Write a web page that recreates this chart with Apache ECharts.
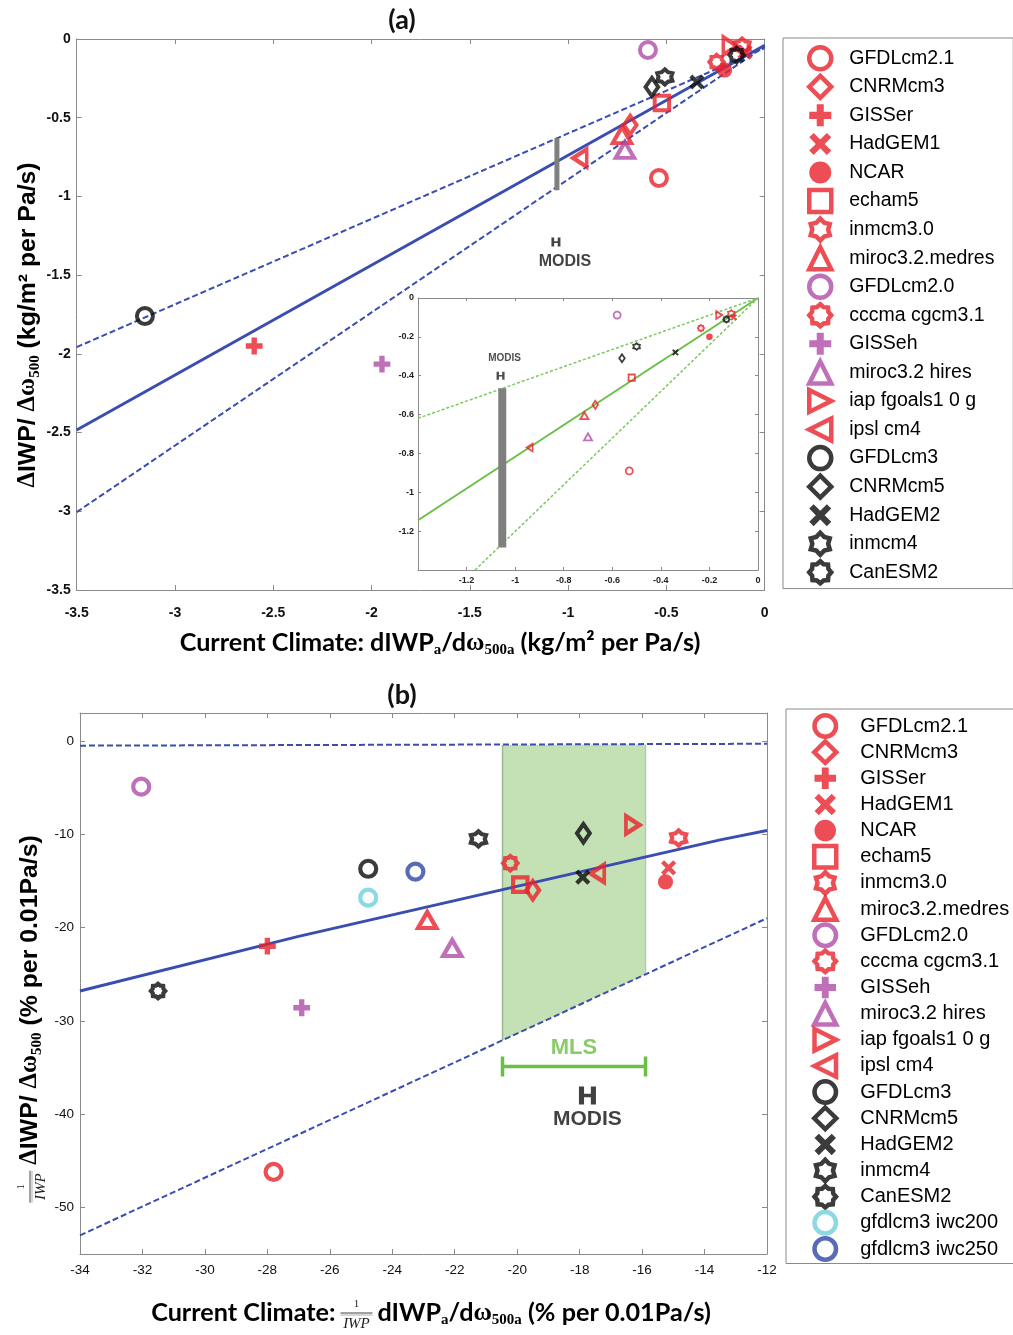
<!DOCTYPE html>
<html><head><meta charset="utf-8">
<script src="https://cdn.jsdelivr.net/npm/echarts@6/dist/echarts.min.js"></script>
<style>html,body{margin:0;padding:0;background:#fff}#c{width:1013px;height:1335px}</style>
</head><body><div id="c"></div>
<script>
// ---------------- DATA ----------------
const modelNames = ['GFDLcm2.1','CNRMcm3','GISSer','HadGEM1','NCAR','echam5','inmcm3.0','miroc3.2.medres','GFDLcm2.0','cccma cgcm3.1','GISSeh','miroc3.2 hires','iap fgoals1 0 g','ipsl cm4','GFDLcm3','CNRMcm5','HadGEM2','inmcm4','CanESM2'];
const extraNamesB = ['gfdlcm3 iwc200','gfdlcm3 iwc250'];

// panel (a) main
const aX = [-0.538,-0.684,-2.597,-0.100,-0.204,-0.523,-0.115,-0.726,-0.594,-0.245,-1.947,-0.711,-0.176,-0.940,-3.153,-0.574,-0.345,-0.508,-0.143];
const aY = [-0.883,-0.546,-1.950,-0.083,-0.197,-0.407,-0.045,-0.610,-0.070,-0.146,-2.065,-0.705,-0.045,-0.756,-1.760,-0.305,-0.273,-0.241,-0.102];

// panel (a) inset
const insetNames = ['GFDLcm2.1','CNRMcm3','HadGEM1','NCAR','echam5','inmcm3.0','miroc3.2.medres','GFDLcm2.0','cccma cgcm3.1','miroc3.2 hires','iap fgoals1 0 g','ipsl cm4','CNRMcm5','HadGEM2','inmcm4','CanESM2'];
const insetX = [-0.53,-0.67,-0.10,-0.20,-0.52,-0.11,-0.715,-0.58,-0.235,-0.70,-0.16,-0.94,-0.56,-0.34,-0.50,-0.13];
const insetY = [-0.89,-0.55,-0.10,-0.20,-0.41,-0.08,-0.605,-0.088,-0.155,-0.715,-0.088,-0.77,-0.31,-0.28,-0.25,-0.11];

// panel (b)
const bX = [-27.8,-19.5,-28.0,-15.15,-15.25,-19.9,-14.83,-22.88,-32.04,-20.22,-26.9,-22.08,-16.3,-17.43,-24.77,-17.88,-17.9,-21.24,-31.5,-24.77,-23.26];
const bY = [-46.2,-16.0,-22.0,-13.6,-15.1,-15.4,-10.4,-19.2,-4.9,-13.1,-28.6,-22.2,-9.0,-14.2,-13.7,-9.9,-14.6,-10.5,-26.8,-16.8,-14.0];

// regression lines (a)
const aFit = [[-3.5,-2.484],[-1.043,-0.769],[0,-0.04]];
const aUpper = [[-3.5,-1.957],[-1.043,-0.623],[0,-0.057]];
const aLower = [[-3.5,-3.005],[-1.043,-0.928],[0,-0.047]];
const aModisBar = [[-1.057,-0.63],[-1.057,-0.96]];
const aModisPt = [[-1.062,-1.29]];
// inset lines
const inFit = [[-1.4,-1.144],[0,0]];
const inUpper = [[-1.4,-0.619],[0,0]];
const inLower = [[-1.165,-1.4],[0,0]];
const inModisBar = [[-1.053,-0.464],[-1.053,-1.284]];
const inModisPt = [[-1.06,-0.40]];
// lines (b)
const bFit = [[-34,-26.8],[-27,-20.95],[-21.2,-16.5],[-13.5,-10.6],[-12,-9.6]];
const bUpper = [[-34,-0.5],[-12,-0.3]];
const bLower = [[-34,-53.0],[-12,-19.0]];
const mlsBoxX = [-20.47,-15.89];
const mlsBoxTop = [-0.42,-0.37];
const mlsBoxBot = [-32.1,-25.0];
const mlsBar = [[-20.47,-34.9],[-15.89,-34.9]];
const mlsLabelPt = [[-18.18,-34.9]];
const bModisPt = [[-17.75,-38.0]];

// axis ticks
const aTicks = {min:-3.5, max:0, interval:0.5};
const inTicks = [-1.2,-1,-0.8,-0.6,-0.4,-0.2,0];
const bXTicks = {min:-34, max:-12, interval:2};
const bYTicks = [-50,-40,-30,-20,-10,0];

// ---------------- STYLES ----------------
function starPath(n, rIn){ let d=''; for(let i=0;i<2*n;i++){const r=i%2?rIn*10:10;const a=-Math.PI/2+i*Math.PI/n;d+=(i?'L':'M')+(10+r*Math.cos(a)).toFixed(2)+','+(10+r*Math.sin(a)).toFixed(2);} return 'path://'+d+'Z'; }
const HEX = starPath(6,0.72), GEAR = starPath(8,0.8);
const PLUS='path://M3.4,0H6.6V3.4H10V6.6H6.6V10H3.4V6.6H0V3.4H3.4Z';
const CROSS='path://M2,0L5,3L8,0L10,2L7,5L10,8L8,10L5,7L2,10L0,8L3,5L0,2Z';
const RTRI='path://M0,0L10,5L0,10Z', LTRI='path://M10,0L0,5L10,10Z';
const HSYM='path://M0,0H3V4H7V0H10V10H7V6H3V10H0Z';
const CAP='path://M0,0H2V10H0Z';
const RED='#e8222a', PUR='#b04ca6', BLK='#0a0a0a', CYA='#6ecfdc', NAV='#2f46a4';
const LBLUE='#3a4db0', GRN='#6abf45', GREY='#7f7f7f', AXC='#8a8a8a';
const allNames = modelNames.concat(extraNamesB);
const COL=[RED,RED,RED,RED,RED,RED,RED,RED,PUR,RED,PUR,PUR,RED,RED,BLK,BLK,BLK,BLK,BLK,CYA,NAV];
const SYM=['circle','diamond',PLUS,CROSS,'circle','rect',HEX,'triangle','circle',GEAR,PLUS,'triangle',RTRI,LTRI,'circle','diamond',CROSS,HEX,GEAR,'circle','circle'];
const FILLED=[0,0,1,1,1,0,0,0,0,0,1,0,0,0,0,0,1,0,0,0,0];
const ASP=[[1,1],[0.8,1.15],[1.05,1.05],[0.95,0.95],[0.95,0.95],[0.9,0.9],[0.95,0.95],[1.15,1.0],[1,1],[0.9,0.9],[1.05,1.05],[1.15,1.0],[0.85,1.1],[0.85,1.1],[1,1],[0.8,1.15],[0.95,0.95],[0.95,0.95],[0.9,0.9],[1,1],[1,1]];

function makeScatter(names, xs, ys, axis, base, bw, prefix){
  return names.map((n,k)=>{ const i=allNames.indexOf(n);
    return {type:'scatter', name:prefix+n, xAxisIndex:axis, yAxisIndex:axis, symbol:SYM[i],
      symbolSize:[base*ASP[i][0], base*ASP[i][1]], symbolKeepAspect:false, data:[[xs[k],ys[k]]],
      itemStyle: FILLED[i]?{color:COL[i], borderWidth:0}:{color:'rgba(255,255,255,0)', borderColor:COL[i], borderWidth:bw},
      z:6, silent:true, animation:false};
  });
}
function lineS(data, axis, color, width, type, z){
  return {type:'line', data, xAxisIndex:axis, yAxisIndex:axis, showSymbol:false, symbol:'none',
    lineStyle:{color, width, type}, z:z||3, silent:true, animation:false};
}
function pointLabel(data, axis, sym, size, color, text, pos, dist, offset, fs){
  return {type:'scatter', data, xAxisIndex:axis, yAxisIndex:axis, symbol:sym, symbolSize:size,
    itemStyle:{color}, z:7, silent:true, animation:false,
    label:{show:true, formatter:text, position:pos, distance:dist, offset:offset,
      fontFamily:'Liberation Sans', fontWeight:'bold', fontSize:fs, color:color==='rgba(0,0,0,0)'?GRN:color}};
}

// ---------------- AXES ----------------
function axisBase(o){
  return Object.assign({type:'value', splitLine:{show:false},
    axisLine:{show:true, onZero:false, lineStyle:{color:AXC, width:1}},
    axisTick:{show:true, inside:true, length:5, lineStyle:{color:AXC}}}, o);
}
const labA = {fontFamily:'Liberation Sans', fontWeight:'bold', fontSize:14, color:'#111', showMinLabel:true, showMaxLabel:true};
const labIn = {fontFamily:'Liberation Sans', fontWeight:'bold', fontSize:9, color:'#222'};
const labB = {fontFamily:'Liberation Sans', fontSize:13.5, color:'#111', showMinLabel:true, showMaxLabel:true};
const xAxes = [
  axisBase(Object.assign({gridIndex:0, position:'bottom', axisLabel:Object.assign({margin:16},labA)}, aTicks)),
  axisBase({gridIndex:1, position:'bottom', min:-1.4, max:0, axisLabel:Object.assign({margin:6, customValues:inTicks},labIn), axisTick:{show:true, inside:true, length:3, customValues:inTicks, lineStyle:{color:AXC}}}),
  axisBase(Object.assign({gridIndex:2, position:'bottom', axisLabel:Object.assign({margin:9},labB)}, bXTicks)),
  axisBase(Object.assign({gridIndex:0, position:'top', axisLabel:{show:false}}, aTicks)),
  axisBase({gridIndex:1, position:'top', min:-1.4, max:0, axisLabel:{show:false}, axisTick:{show:true, inside:true, length:3, customValues:inTicks, lineStyle:{color:AXC}}}),
  axisBase(Object.assign({gridIndex:2, position:'top', axisLabel:{show:false}}, bXTicks))
];
const yAxes = [
  axisBase(Object.assign({gridIndex:0, position:'left', axisLabel:Object.assign({margin:6},labA)}, aTicks)),
  axisBase({gridIndex:1, position:'left', min:-1.4, max:0, axisLabel:Object.assign({margin:4, customValues:inTicks},labIn), axisTick:{show:true, inside:true, length:3, customValues:inTicks, lineStyle:{color:AXC}}}),
  axisBase({gridIndex:2, position:'left', min:-55, max:3, axisLabel:Object.assign({margin:6, customValues:bYTicks},labB), axisTick:{show:true, inside:true, length:5, customValues:bYTicks, lineStyle:{color:AXC}}}),
  axisBase(Object.assign({gridIndex:0, position:'right', axisLabel:{show:false}}, aTicks)),
  axisBase({gridIndex:1, position:'right', min:-1.4, max:0, axisLabel:{show:false}, axisTick:{show:true, inside:true, length:3, customValues:inTicks, lineStyle:{color:AXC}}}),
  axisBase({gridIndex:2, position:'right', min:-55, max:3, axisLabel:{show:false}, axisTick:{show:true, inside:true, length:5, customValues:bYTicks, lineStyle:{color:AXC}}})
];

// ---------------- SERIES ----------------
const DASH=[6,3];
const series = [];
// (a) main
series.push(lineS(aFit,0,LBLUE,3,'solid'), lineS(aUpper,0,LBLUE,2,DASH), lineS(aLower,0,LBLUE,2,DASH));
series.push(lineS(aModisBar,0,GREY,5,'solid',4));
series.push(pointLabel(aModisPt,0,HSYM,[9,9],'#111','MODIS','bottom',7,[9,0],16));
series.push(...makeScatter(modelNames,aX,aY,0,16,4,''));
// inset
series.push(lineS(inFit,1,GRN,2,'solid'), lineS(inUpper,1,'#7cc860',1.5,[3,2]), lineS(inLower,1,'#7cc860',1.5,[3,2]));
series.push(lineS(inModisBar,1,GREY,8,'solid',4));
series.push(pointLabel(inModisPt,1,HSYM,[8,8],'#222','MODIS','top',8,[4,0],10));
series.push(...makeScatter(insetNames,insetX,insetY,1,7,1.8,'inset '));
// (b)
series.push({type:'custom', xAxisIndex:2, yAxisIndex:2, z:1, silent:true, animation:false,
  data: mlsBoxX.map((x,i)=>[x, mlsBoxTop[i], mlsBoxBot[i]]),
  renderItem:function(params, api){
    if(params.dataIndex!==0) return null;
    const p0=api.coord([api.value(0,0),api.value(1,0)]), p1=api.coord([api.value(0,1),api.value(1,1)]),
          p2=api.coord([api.value(0,1),api.value(2,1)]), p3=api.coord([api.value(0,0),api.value(2,0)]);
    return {type:'group', children:[
      {type:'polygon', shape:{points:[p0,p1,p2,p3]}, style:{fill:'#c3e1b5'}},
      {type:'line', shape:{x1:p0[0],y1:p0[1],x2:p3[0],y2:p3[1]}, style:{stroke:'#98b894', lineWidth:1.5}},
      {type:'line', shape:{x1:p1[0],y1:p1[1],x2:p2[0],y2:p2[1]}, style:{stroke:'#b8c8b6', lineWidth:1.5}}
    ]};
  }});
series.push(lineS(bFit,2,LBLUE,3,'solid'), lineS(bUpper,2,LBLUE,2,DASH), lineS(bLower,2,LBLUE,2,DASH));
series.push({type:'line', data:mlsBar, xAxisIndex:2, yAxisIndex:2, symbol:CAP, symbolSize:[3.5,20], showSymbol:true,
  itemStyle:{color:GRN}, lineStyle:{color:GRN, width:3.5}, z:4, silent:true, animation:false});
series.push(pointLabel(mlsLabelPt,2,'rect',1,'rgba(0,0,0,0)','MLS','top',7,[0,0],22));
series.push(pointLabel(bModisPt,2,HSYM,[17,18],'#111','MODIS','bottom',4,[0,0],21));
series.push(...makeScatter(allNames,bX,bY,2,16,4.2,''));

// ---------------- LEGENDS ----------------
const mctx = document.createElement('canvas').getContext('2d');
function tw(t, font){ mctx.font = font; return mctx.measureText(t).width; }
function legendData(names){ return names.map(n=>{ const i=allNames.indexOf(n);
  return {name:n, itemStyle: FILLED[i]?{color:COL[i], borderColor:'rgba(255,255,255,0)', borderWidth:4.5}:{color:'rgba(255,255,255,0)', borderColor:COL[i], borderWidth:4.5}}; }); }
const fA = '19.5px "Liberation Sans"', fB='20px "Liberation Sans"';
const wA = Math.max(...modelNames.map(n=>tw(n,fA)));
const wB = Math.max(...allNames.map(n=>tw(n,fB)));
const legA = {orient:'vertical', left:783, top:38, itemWidth:22, itemHeight:22, itemGap:2.06,
  padding:[7, Math.max(2, 1011-(783+24+22+5+13+wA)), 3, 24], borderColor:'#8a8a8a', borderWidth:1, selectedMode:false,
  textStyle:{fontFamily:'Liberation Sans', fontSize:19.5, color:'#000', padding:[0,0,0,13]}, data:legendData(modelNames)};
const legB = {orient:'vertical', left:786, top:709, itemWidth:22, itemHeight:21.5, itemGap:0.15,
  padding:[4, Math.max(2, 1012-(786+26+22+5+19+wB)), 1.5, 26], borderColor:'#8a8a8a', borderWidth:1, selectedMode:false,
  textStyle:{fontFamily:'Liberation Sans', fontSize:20, color:'#000', padding:[0,0,0,19]}, data:legendData(allNames)};

// ---------------- AXIS TITLES ----------------
const richX = {
  m:{fontFamily:'Lato', fontWeight:'bold', fontSize:25.2, color:'#111'},
  w:{fontFamily:'Liberation Serif', fontWeight:'bold', fontSize:25.2, color:'#111'},
  s:{fontFamily:'Liberation Serif', fontWeight:'bold', fontSize:15, color:'#111', verticalAlign:'top', padding:[14,0,0,0]}
};
const richY = {
  m:{fontFamily:'Liberation Sans', fontWeight:'bold', fontSize:24.8, color:'#111'},
  w:{fontFamily:'Liberation Serif', fontWeight:'bold', fontSize:24.8, color:'#111'},
  s:{fontFamily:'Liberation Serif', fontWeight:'bold', fontSize:15, color:'#111', verticalAlign:'top', padding:[14,0,0,0]}
};
function fontOf(st){ return (st.fontWeight||'normal')+' '+st.fontSize+'px "'+st.fontFamily+'"'; }
function rich(parts, r){ let s='', w=0; parts.forEach(([t,k])=>{ s+='{'+k+'|'+t+'}'; w+=tw(t,fontOf(r[k])); }); return {s,w}; }
function fraction(cx){ return {type:'group', x:cx, y:0, children:[
  {type:'text', style:{text:'1', x:0, y:-9, align:'center', verticalAlign:'middle', font:'11px "Liberation Serif"', fill:'#222'}},
  {type:'line', shape:{x1:-16, y1:0, x2:16, y2:0}, style:{stroke:'#444', lineWidth:1}},
  {type:'line', shape:{x1:-16, y1:2, x2:16, y2:2}, style:{stroke:'#999', lineWidth:0.8}},
  {type:'text', style:{text:'IWP', x:0, y:11, align:'center', verticalAlign:'middle', font:'italic 15px "Liberation Serif"', fill:'#222'}}
]}; }
const xa = rich([['Current Climate: dIWP','m'],['a','s'],['/d','m'],['ω','w'],['500a','s'],[' (kg/m² per Pa/s)','m']], richX);
const ya = rich([['Δ','w'],['IWP/ ','m'],['Δω','w'],['500','s'],[' (kg/m² per Pa/s)','m']], richY);
const xb1 = rich([['Current Climate:','m']], richX);
const xb2 = rich([['dIWP','m'],['a','s'],['/d','m'],['ω','w'],['500a','s'],[' (% per 0.01Pa/s)','m']], richX);
const yb = rich([['Δ','w'],['IWP/ ','m'],['Δω','w'],['500','s'],[' (% per 0.01Pa/s)','m']], richY);
const FW = 36;
const xbTot = xb1.w + FW + 6 + xb2.w, xbStart = -xbTot/2;
const ybTot = FW + 4 + yb.w, ybStart = -ybTot/2;
const graphic = [
  {type:'text', x:402, y:20, style:{text:'(a)', align:'center', verticalAlign:'middle', font:'bold 27px "Lato"', fill:'#111'}},
  {type:'text', x:402, y:695, style:{text:'(b)', align:'center', verticalAlign:'middle', font:'bold 27px "Lato"', fill:'#111'}},
  {type:'text', x:440, y:643, style:{text:xa.s, rich:richX, align:'center', verticalAlign:'middle'}},
  {type:'text', x:28, y:325, rotation:Math.PI/2, style:{text:ya.s, rich:richY, align:'center', verticalAlign:'middle'}},
  {type:'group', x:431, y:1313, children:[
    {type:'text', style:{text:xb1.s, rich:richX, x:xbStart, y:0, align:'left', verticalAlign:'middle'}},
    fraction(xbStart + xb1.w + 3 + FW/2),
    {type:'text', style:{text:xb2.s, rich:richX, x:xbStart + xb1.w + FW + 6, y:0, align:'left', verticalAlign:'middle'}}
  ]},
  {type:'group', x:30, y:1020, rotation:Math.PI/2, children:[
    fraction(ybStart + FW/2),
    {type:'text', style:{text:yb.s, rich:richY, x:ybStart + FW + 4, y:0, align:'left', verticalAlign:'middle'}}
  ]}
];

// ---------------- CHART ----------------
const chart = echarts.init(document.getElementById('c'), null, {renderer:'canvas'});
chart.setOption({
  animation:false, backgroundColor:'#fff',
  grid:[
    {left:76.7, top:39, width:688, height:551, outerBoundsMode:'none'},
    {left:418, top:298, width:340, height:272, show:true, backgroundColor:'#fff', borderWidth:0, outerBoundsMode:'none'},
    {left:80, top:713, width:687, height:541, outerBoundsMode:'none'}
  ],
  xAxis:xAxes, yAxis:yAxes, legend:[legA, legB], series, graphic
});
</script></body></html>
